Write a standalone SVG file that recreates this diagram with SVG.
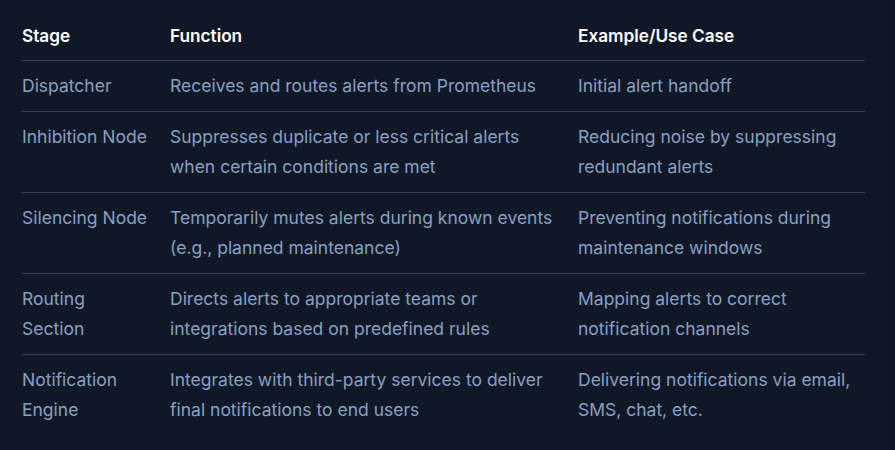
<svg xmlns="http://www.w3.org/2000/svg" width="895" height="450" viewBox="0 0 895 450">
<style>
.h{font-family:Inter,"Noto Sans",sans-serif;font-size:17.2px;font-weight:600;fill:#ffffff}
.t{font-family:Inter,"Noto Sans",sans-serif;font-size:17.5px;fill:#87a0c2}
.r{stroke:#364354;stroke-width:1}
</style>
<rect width="895" height="450" fill="#101828"/>
<g id="grid">
<line class="r" x1="22" y1="60.5" x2="865" y2="60.5"/>
<line class="r" x1="22" y1="111.5" x2="865" y2="111.5"/>
<line class="r" x1="22" y1="192.5" x2="865" y2="192.5"/>
<line class="r" x1="22" y1="273.5" x2="865" y2="273.5"/>
<line class="r" x1="22" y1="354.5" x2="865" y2="354.5"/>
</g>
<g id="header">
<text class="h" x="22" y="42">Stage</text>
<text class="h" x="170" y="42">Function</text>
<text class="h" x="578" y="42">Example/Use Case</text>
</g>
<g id="row-dispatcher">
<text class="t" x="22" y="92">Dispatcher</text>
<text class="t" x="170" y="92">Receives and routes alerts from Prometheus</text>
<text class="t" x="578" y="92">Initial alert handoff</text>
</g>
<g id="row-inhibition">
<text class="t" x="22" y="143">Inhibition Node</text>
<text class="t" x="170" y="143">Suppresses duplicate or less critical alerts</text>
<text class="t" x="170" y="173">when certain conditions are met</text>
<text class="t" x="578" y="143">Reducing noise by suppressing</text>
<text class="t" x="578" y="173">redundant alerts</text>
</g>
<g id="row-silencing">
<text class="t" x="22" y="224">Silencing Node</text>
<text class="t" x="170" y="224">Temporarily mutes alerts during known events</text>
<text class="t" x="170" y="254">(e.g., planned maintenance)</text>
<text class="t" x="578" y="224">Preventing notifications during</text>
<text class="t" x="578" y="254">maintenance windows</text>
</g>
<g id="row-routing">
<text class="t" x="22" y="305">Routing</text>
<text class="t" x="22" y="335">Section</text>
<text class="t" x="170" y="305">Directs alerts to appropriate teams or</text>
<text class="t" x="170" y="335">integrations based on predefined rules</text>
<text class="t" x="578" y="305">Mapping alerts to correct</text>
<text class="t" x="578" y="335">notification channels</text>
</g>
<g id="row-notification">
<text class="t" x="22" y="386">Notification</text>
<text class="t" x="22" y="416">Engine</text>
<text class="t" x="170" y="386">Integrates with third-party services to deliver</text>
<text class="t" x="170" y="416">final notifications to end users</text>
<text class="t" x="578" y="386">Delivering notifications via email,</text>
<text class="t" x="578" y="416">SMS, chat, etc.</text>
</g>
</svg>
